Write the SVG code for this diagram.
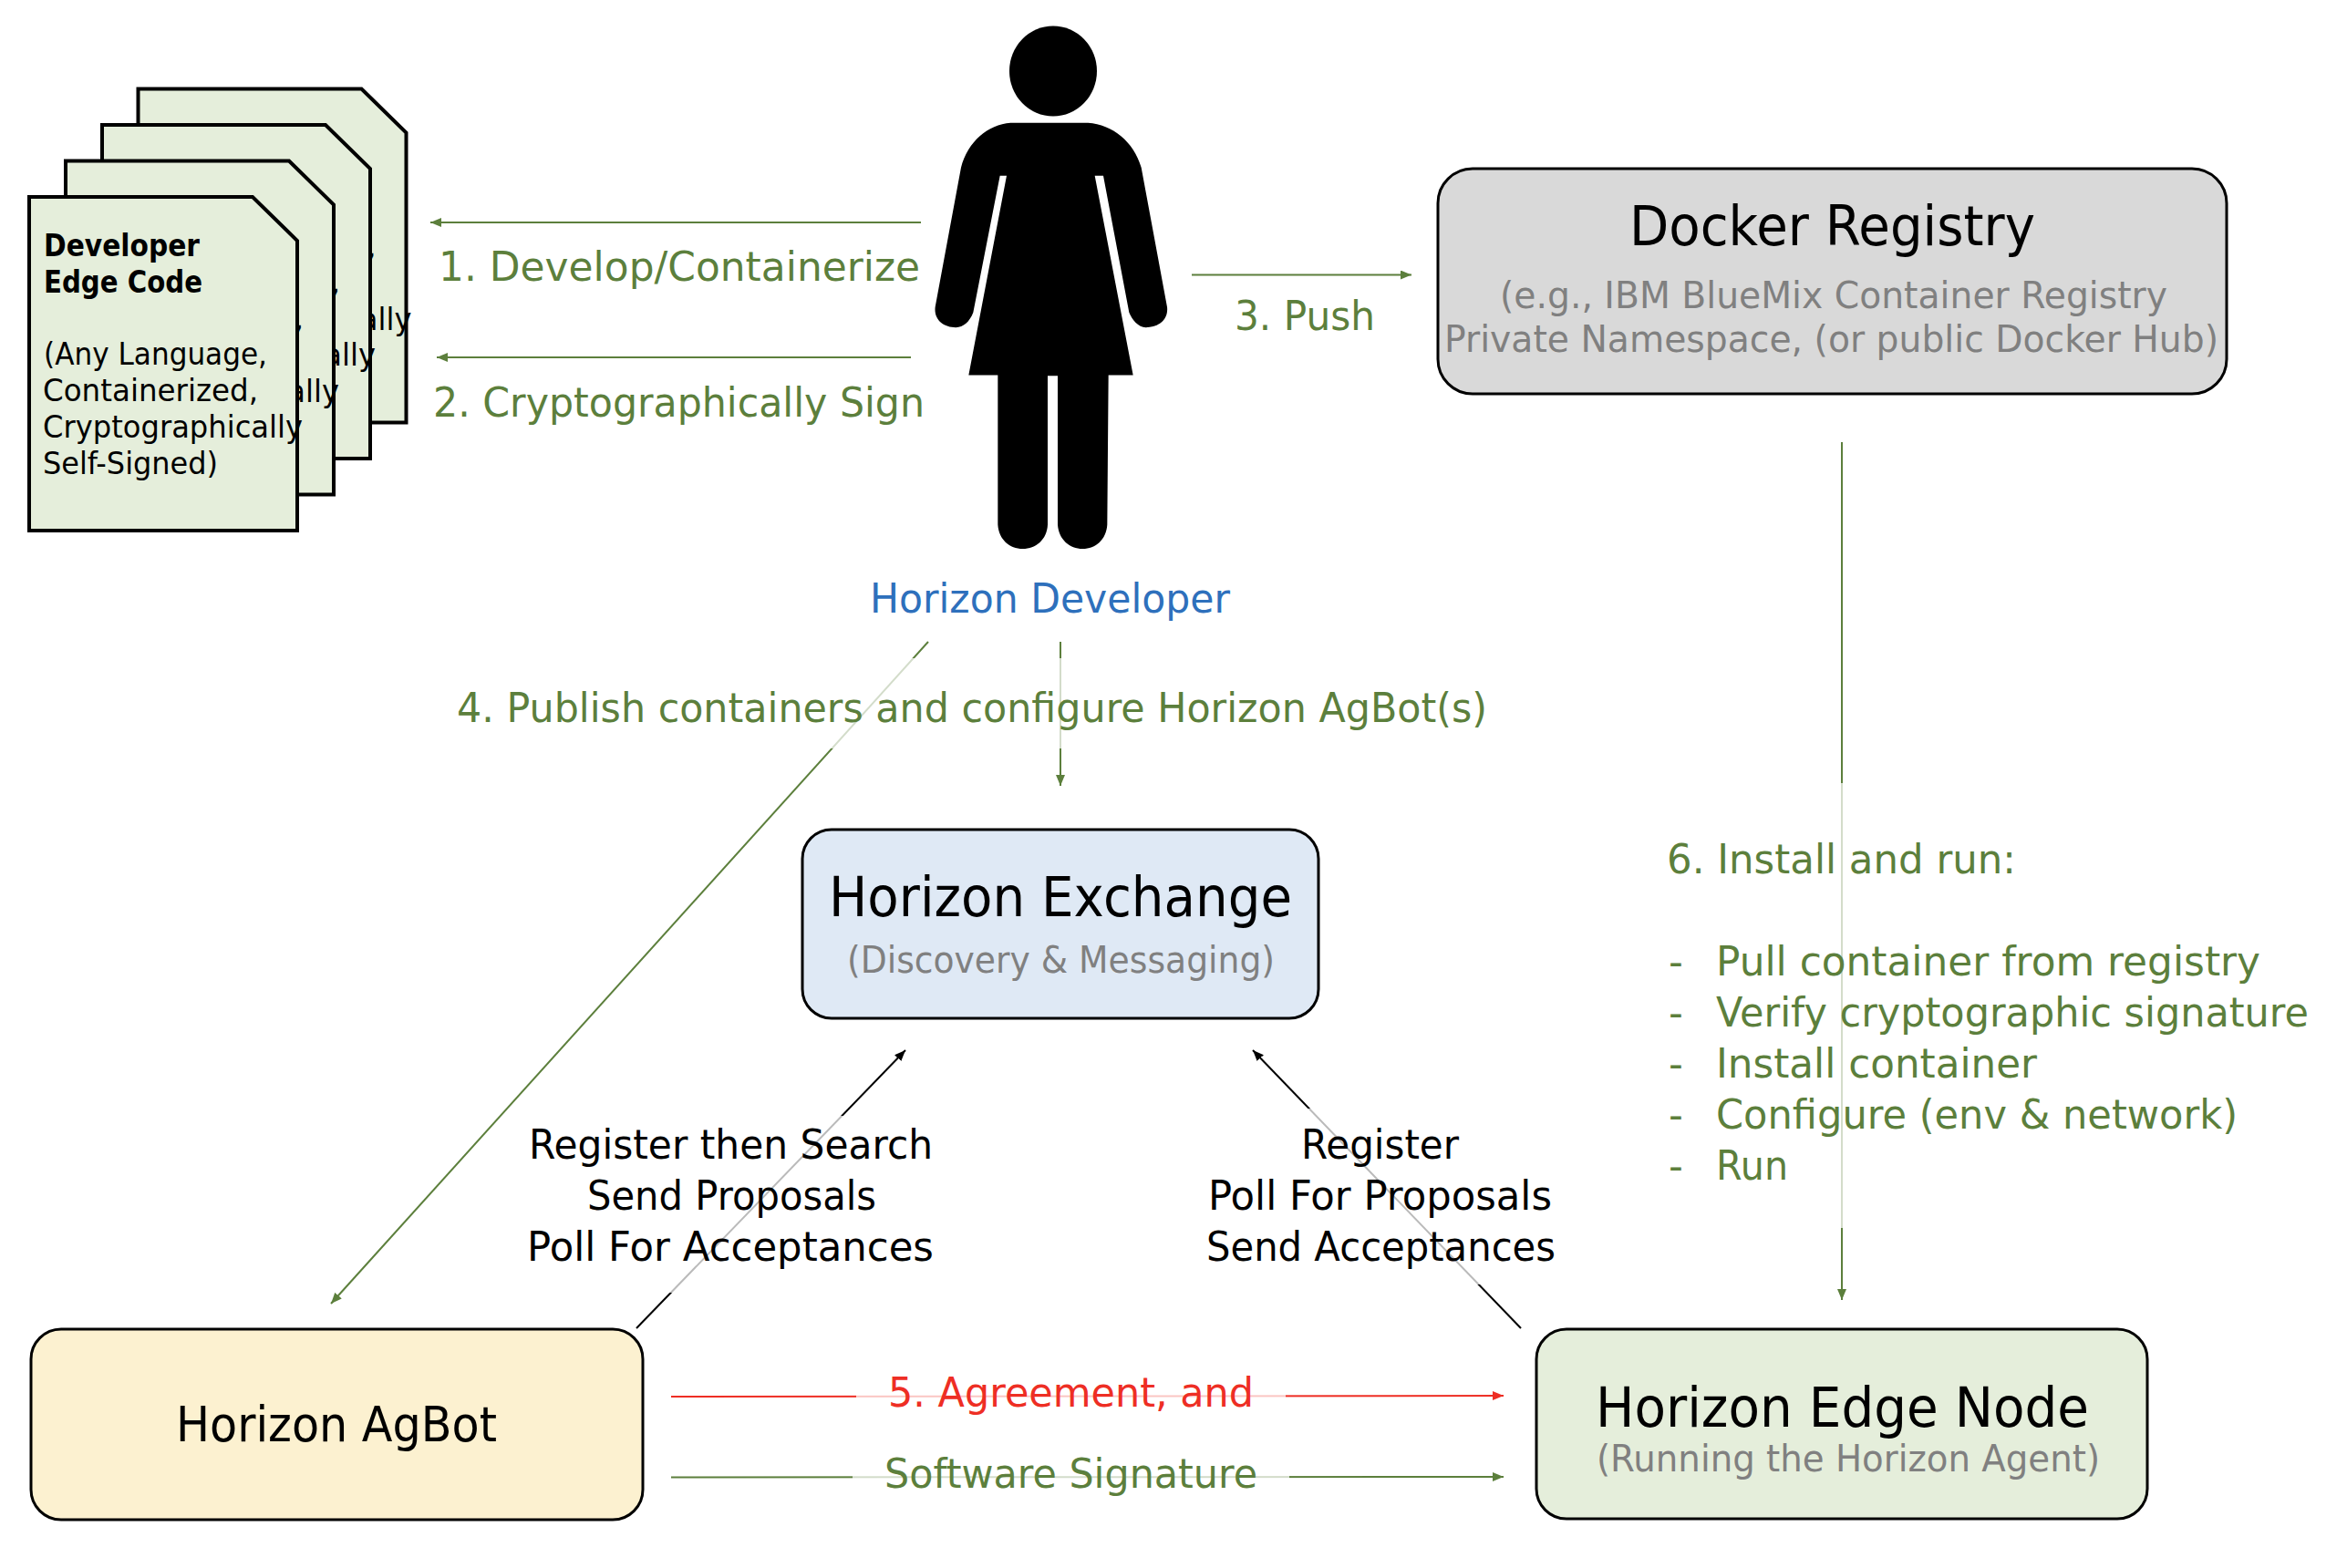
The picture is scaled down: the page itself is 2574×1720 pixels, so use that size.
<svg xmlns="http://www.w3.org/2000/svg" xmlns:xlink="http://www.w3.org/1999/xlink" width="2574" height="1720" viewBox="0 0 2574 1720">
<style>
text{font-family:"DejaVu Sans","Liberation Sans",sans-serif}
.l{font-size:44px;fill:#5c7f3c}
.k{font-size:44px;fill:#000}
.r{font-size:44px;fill:#ee2e24}
.b{font-size:44px;fill:#2e70bc}
.h{font-size:60px;fill:#000}
.s{font-size:41px;fill:#808080}
.d{font-size:34px;fill:#000}
.box{stroke:#000;stroke-width:3}
.doc{fill:#e5eedb;stroke:#000;stroke-width:4}
.g{stroke:#5c7f3c;stroke-width:2;fill:none;marker-end:url(#ag)}
.bk{stroke:#000;stroke-width:2;fill:none;marker-end:url(#ak)}
.rd{stroke:#ee2e24;stroke-width:2;fill:none;marker-end:url(#ar)}
.o{fill:#fff;fill-opacity:.73}
</style>
<defs>
<marker id="ag" markerUnits="userSpaceOnUse" markerWidth="14" markerHeight="10" refX="12" refY="5" orient="auto"><path d="M0 0L12 5L0 10z" fill="#5c7f3c"/></marker>
<marker id="ak" markerUnits="userSpaceOnUse" markerWidth="14" markerHeight="10" refX="12" refY="5" orient="auto"><path d="M0 0L12 5L0 10z" fill="#000"/></marker>
<marker id="ar" markerUnits="userSpaceOnUse" markerWidth="14" markerHeight="10" refX="12" refY="5" orient="auto"><path d="M0 0L12 5L0 10z" fill="#ee2e24"/></marker>
<g id="doc">
<path class="doc" d="M32 216H277L326 264V582H32z"/>
<text class="d" font-weight="bold" x="48" y="281" textLength="171" lengthAdjust="spacingAndGlyphs">Developer</text>
<text class="d" font-weight="bold" x="48" y="321" textLength="174" lengthAdjust="spacingAndGlyphs">Edge Code</text>
<text class="d" x="48" y="400" textLength="245" lengthAdjust="spacingAndGlyphs">(Any Language,</text>
<text class="d" x="47" y="440" textLength="236" lengthAdjust="spacingAndGlyphs">Containerized,</text>
<text class="d" x="47" y="480" textLength="285" lengthAdjust="spacingAndGlyphs">Cryptographically</text>
<text class="d" x="47" y="520" textLength="192" lengthAdjust="spacingAndGlyphs">Self-Signed)</text>
</g>
</defs>
<rect width="2574" height="1720" fill="#fff"/>
<g id="developer-code">
<use xlink:href="#doc" href="#doc" x="119.5" y="-118.5"/>
<use xlink:href="#doc" href="#doc" x="80" y="-79"/>
<use xlink:href="#doc" href="#doc" x="40" y="-39.5"/>
<use xlink:href="#doc" href="#doc"/>
</g>
<g id="horizon-developer">
<ellipse cx="1155" cy="78" rx="48" ry="49.5"/>
<path transform="translate(980 0) scale(.33333 .40816)" d="M385 330H640C720 335 790 380 815 450L900 825C905 860 870 880 830 880C805 880 785 860 775 840L690 472H662L788 1008H707L703 1410C700 1450 665 1475 622 1475C580 1475 543 1450 540 1410V1010H507V1410C505 1450 468 1475 425 1475C382 1475 346 1450 343 1410V1008H247L372 472H350L262 840C250 865 230 880 205 880C165 880 132 860 137 825L222 450C245 380 310 335 385 330z"/>
<text class="b" x="954" y="672" textLength="395" lengthAdjust="spacingAndGlyphs">Horizon Developer</text>
</g>
<g id="docker-registry">
<rect class="box" x="1577" y="185" width="865" height="247" rx="38" fill="#d9d9d9"/>
<text class="h" x="1787" y="269" textLength="445" lengthAdjust="spacingAndGlyphs">Docker Registry</text>
<text class="s" x="1645" y="338" textLength="732" lengthAdjust="spacingAndGlyphs">(e.g., IBM BlueMix Container Registry</text>
<text class="s" x="1584" y="386" textLength="849" lengthAdjust="spacingAndGlyphs">Private Namespace, (or public Docker Hub)</text>
</g>
<g id="horizon-exchange">
<rect class="box" x="880" y="910" width="566" height="207" rx="32" fill="#dfe9f5"/>
<text class="h" x="909" y="1005" textLength="508" lengthAdjust="spacingAndGlyphs">Horizon Exchange</text>
<text class="s" x="929" y="1067" textLength="469" lengthAdjust="spacingAndGlyphs">(Discovery &amp; Messaging)</text>
</g>
<g id="horizon-agbot">
<rect class="box" x="34" y="1458" width="671" height="209" rx="33" fill="#fcf1d0"/>
<text class="h" style="font-size:54px" x="193" y="1581" textLength="352" lengthAdjust="spacingAndGlyphs">Horizon AgBot</text>
</g>
<g id="horizon-edge-node">
<rect class="box" x="1685" y="1458" width="670" height="208" rx="33" fill="#e5eedb"/>
<text class="h" x="1750" y="1565" textLength="541" lengthAdjust="spacingAndGlyphs">Horizon Edge Node</text>
<text class="s" x="1751" y="1614" textLength="552" lengthAdjust="spacingAndGlyphs">(Running the Horizon Agent)</text>
</g>
<g id="connectors">
<line class="g" x1="1010" y1="244" x2="472" y2="244"/>
<line class="g" x1="999" y1="392" x2="479" y2="392"/>
<line class="g" x1="1307" y1="301.500" x2="1548" y2="301.500"/>
<line class="g" x1="1018" y1="704" x2="363" y2="1430"/>
<line class="g" x1="1163" y1="704" x2="1163" y2="862"/>
<line class="g" x1="2020" y1="485" x2="2020" y2="1426"/>
<line class="bk" x1="698" y1="1457" x2="993" y2="1152"/>
<line class="bk" x1="1668" y1="1457" x2="1374" y2="1152"/>
<line class="rd" x1="736" y1="1532" x2="1649" y2="1531"/>
<line class="g" x1="736" y1="1620.500" x2="1649" y2="1620"/>
</g>
<g id="label-backgrounds">
<rect class="o" x="495" y="722" width="1145" height="99"/>
<rect class="o" x="1815" y="859" width="725" height="488"/>
<rect class="o" x="570" y="1224" width="470" height="194"/>
<rect class="o" x="1310" y="1216" width="405" height="193"/>
<rect class="o" x="939" y="1505" width="471" height="50"/>
<rect class="o" x="935" y="1595" width="479" height="50"/>
</g>
<g id="labels">
<text class="l" x="481" y="308" textLength="528" lengthAdjust="spacingAndGlyphs">1. Develop/Containerize</text>
<text class="l" x="475" y="457" textLength="539" lengthAdjust="spacingAndGlyphs">2. Cryptographically Sign</text>
<text class="l" x="1354" y="362" textLength="154" lengthAdjust="spacingAndGlyphs">3. Push</text>
<text class="l" x="501" y="792" textLength="1130" lengthAdjust="spacingAndGlyphs">4. Publish containers and configure Horizon AgBot(s)</text>
<text class="k" x="580" y="1271" textLength="443" lengthAdjust="spacingAndGlyphs">Register then Search</text>
<text class="k" x="644" y="1327" textLength="317" lengthAdjust="spacingAndGlyphs">Send Proposals</text>
<text class="k" x="578" y="1383" textLength="446" lengthAdjust="spacingAndGlyphs">Poll For Acceptances</text>
<text class="k" x="1427" y="1271" textLength="173" lengthAdjust="spacingAndGlyphs">Register</text>
<text class="k" x="1325" y="1327" textLength="377" lengthAdjust="spacingAndGlyphs">Poll For Proposals</text>
<text class="k" x="1323" y="1383" textLength="383" lengthAdjust="spacingAndGlyphs">Send Acceptances</text>
<text class="r" x="974" y="1543" textLength="401" lengthAdjust="spacingAndGlyphs">5. Agreement, and</text>
<text class="l" x="970" y="1632" textLength="409" lengthAdjust="spacingAndGlyphs">Software Signature</text>
<text class="l" x="1828" y="958" textLength="383" lengthAdjust="spacingAndGlyphs">6. Install and run:</text>
<text class="l" x="1830" y="1070">-</text>
<text class="l" x="1882" y="1070" textLength="597" lengthAdjust="spacingAndGlyphs">Pull container from registry</text>
<text class="l" x="1830" y="1126">-</text>
<text class="l" x="1882" y="1126" textLength="650" lengthAdjust="spacingAndGlyphs">Verify cryptographic signature</text>
<text class="l" x="1830" y="1182">-</text>
<text class="l" x="1882" y="1182" textLength="352" lengthAdjust="spacingAndGlyphs">Install container</text>
<text class="l" x="1830" y="1238">-</text>
<text class="l" x="1882" y="1238" textLength="572" lengthAdjust="spacingAndGlyphs">Configure (env &amp; network)</text>
<text class="l" x="1830" y="1294">-</text>
<text class="l" x="1882" y="1294" textLength="79" lengthAdjust="spacingAndGlyphs">Run</text>
</g>
</svg>
